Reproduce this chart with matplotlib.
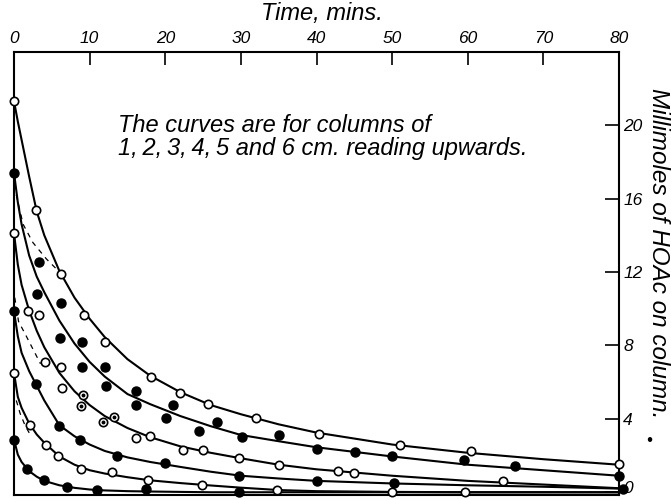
import matplotlib
matplotlib.use("Agg")
import matplotlib.pyplot as plt
import matplotlib.transforms as mtransforms

plt.rcParams["font.family"] = ["Liberation Sans", "DejaVu Sans"]
plt.rcParams["font.style"] = "italic"

# drawn curves (6 cm on top, 1 cm at the bottom)
line_x = [0, 0.5, 1, 2, 3, 4, 6, 8, 10, 12, 15, 18, 22, 26, 30, 35, 40, 50, 60, 70, 80]
line_6 = [21.3, 20.2, 19.2, 17.2, 15.3, 14.0, 12.05, 10.6, 9.45, 8.45, 7.25, 6.35, 5.45, 4.75, 4.25, 3.7, 3.25, 2.6, 2.15, 1.8, 1.5]
line_5 = [17.4, 15.8, 14.6, 12.9, 11.75, 10.9, 9.35, 8.1, 7.1, 6.3, 5.35, 4.8, 4.15, 3.6, 3.12, 2.78, 2.45, 1.95, 1.5, 1.2, 0.9]
line_4 = [14.1, 12.4, 11.3, 9.9, 8.8, 7.9, 6.5, 5.5, 4.75, 4.15, 3.5, 3.0, 2.5, 2.15, 1.85, 1.5, 1.25, 0.9, 0.62, 0.42, 0.22]
line_3 = [9.85, 8.5, 7.6, 6.6, 5.8, 5.0, 3.65, 3.05, 2.6, 2.25, 1.9, 1.65, 1.38, 1.12, 0.9, 0.75, 0.62, 0.48, 0.38, 0.3, 0.2]
line_2 = [6.5, 5.2, 4.6, 3.75, 3.15, 2.7, 1.95, 1.5, 1.2, 1.02, 0.82, 0.65, 0.5, 0.37, 0.25, 0.12, 0.06, 0.02, 0.0, 0.0, 0.0]
line_1 = [2.87, 2.05, 1.65, 1.15, 0.85, 0.62, 0.38, 0.24, 0.15, 0.1, 0.06, 0.04, 0.02, 0.0, 0.0, 0.0, 0.0, 0.0, 0.0, 0.0, 0.0]

# dashed early-time curves
dash_a_x = [0.3, 1.2, 2.5, 4.3, 6.5]
dash_a_y = [16.2, 14.6, 13.6, 12.7, 11.8]
dash_b_x = [0.1, 0.6, 1.5, 2.5, 3.5]
dash_b_y = [10.6, 9.3, 8.6, 7.8, 7.0]
dash_c_x = [0.3, 0.8, 1.5, 2.2]
dash_c_y = [5.0, 4.3, 3.6, 3.1]

# measured points
c6_x = [0, 2.9, 6.2, 9.3, 12.0, 18.1, 22.0, 25.6, 32.0, 40.3, 51.1, 60.4, 80]
c6_y = [21.3, 15.4, 11.9, 9.65, 8.2, 6.3, 5.4, 4.8, 4.07, 3.2, 2.6, 2.24, 1.52]
c5_x = [0, 3.3, 3.1, 6.2, 6.1, 9.0, 9.0, 12.0, 12.1, 16.1, 16.1, 21.0, 20.1, 26.9, 24.5,
        30.1, 35.1, 40.0, 45.1, 50.0, 59.5, 66.3, 80]
c5_y = [17.4, 12.55, 10.8, 10.3, 8.4, 8.2, 6.8, 6.8, 5.8, 5.5, 4.76, 4.76, 4.03, 3.83, 3.34,
        3.0, 3.1, 2.34, 2.2, 1.95, 1.76, 1.43, 0.89]
c4_x = [0, 1.8, 3.3, 4.1, 6.2, 6.3, 9.1, 8.8, 11.8, 13.2, 16.1, 18.0, 22.3, 25.0, 29.8,
        35.1, 42.8, 44.9, 64.6]
c4_y = [14.1, 9.86, 9.66, 7.1, 6.85, 5.67, 5.3, 4.7, 3.83, 4.1, 2.98, 3.07, 2.29, 2.29, 1.85,
        1.49, 1.14, 1.04, 0.62]
c4_dot_x = [9.1, 8.8, 11.8, 13.2]
c4_dot_y = [5.3, 4.7, 3.83, 4.1]
c3_x = [0, 2.9, 6.0, 8.7, 13.6, 19.9, 29.8, 40.0, 50.2, 80.5]
c3_y = [9.85, 5.9, 3.6, 2.87, 1.98, 1.6, 0.89, 0.62, 0.49, 0.2]
c2_x = [0, 2.1, 4.2, 5.8, 8.9, 12.9, 17.7, 24.9, 34.8, 50.0, 59.6]
c2_y = [6.5, 3.69, 2.6, 1.96, 1.25, 1.08, 0.65, 0.4, 0.1, 0.0, 0.0]
c1_x = [0, 1.7, 3.9, 7.0, 11.0, 17.5, 29.8]
c1_y = [2.87, 1.25, 0.68, 0.3, 0.14, 0.16, 0.0]

x_ticks = [0, 10, 20, 30, 40, 50, 60, 70, 80]
y_ticks = [0, 4, 8, 12, 16, 20]

fig = plt.figure(figsize=(6.71, 4.99), dpi=100)
ax = fig.add_axes([0.0209, 0.008, 0.9016, 0.8884])

for ys in [line_6, line_5, line_4, line_3, line_2, line_1]:
    ax.plot(line_x, ys, color="black", lw=1.5, zorder=2, clip_on=False)
for dx, dy in [(dash_a_x, dash_a_y), (dash_b_x, dash_b_y), (dash_c_x, dash_c_y)]:
    ax.plot(dx, dy, color="black", lw=0.9, ls=(0, (4, 4)), zorder=2)

open_kw = dict(ls="none", marker="o", ms=6, mfc="white", mec="black", mew=1.2, zorder=3, clip_on=False)
fill_kw = dict(ls="none", marker="o", ms=6.5, mfc="black", mec="black", zorder=3, clip_on=False)
ax.plot(c6_x, c6_y, **open_kw)
ax.plot(c5_x, c5_y, **fill_kw)
ax.plot(c4_x, c4_y, **open_kw)
ax.plot(c4_dot_x, c4_dot_y, ls="none", marker="o", ms=1.8, color="black", zorder=4)
ax.plot(c3_x, c3_y, **fill_kw)
ax.plot(c2_x, c2_y, **open_kw)
ax.plot(c1_x, c1_y, **fill_kw)

ax.set_xlim(0, 80)
ax.set_ylim(-0.15, 24)
ax.xaxis.tick_top()
ax.yaxis.tick_right()
ax.set_xticks(x_ticks)
ax.set_yticks(y_ticks)
ax.tick_params(axis="x", direction="in", length=9, width=1.2, pad=4, labelsize=12.5)
ax.tick_params(axis="y", direction="in", length=10, width=1.2, pad=3, labelsize=12.5)
for s in ax.spines.values():
    s.set_linewidth(1.5)

# the "0" label sits a little higher so it stays on the page
zero_lab = ax.get_yticklabels()[0]
zero_lab.set_transform(zero_lab.get_transform()
                       + mtransforms.ScaledTranslation(0, 4 / 72, fig.dpi_scale_trans))

ax.text(13.7, 20.0, "The curves are for columns of", fontsize=17, va="center", ha="left")
ax.text(13.7, 18.7, "1,\u20092,\u20093,\u20094,\u20095 and 6 cm. reading upwards.", fontsize=17,
        va="center", ha="left")

fig.text(0.48, 0.972, "Time, mins.", fontsize=17, ha="center", va="center")
fig.text(0.982, 0.493, "Millimoles of HOAc on column.", fontsize=17.5, rotation=-90,
         ha="center", va="center")
fig.text(0.967, 0.118, "\u2022", fontsize=12, ha="center", va="center")

fig.savefig("out.png", dpi=100)
